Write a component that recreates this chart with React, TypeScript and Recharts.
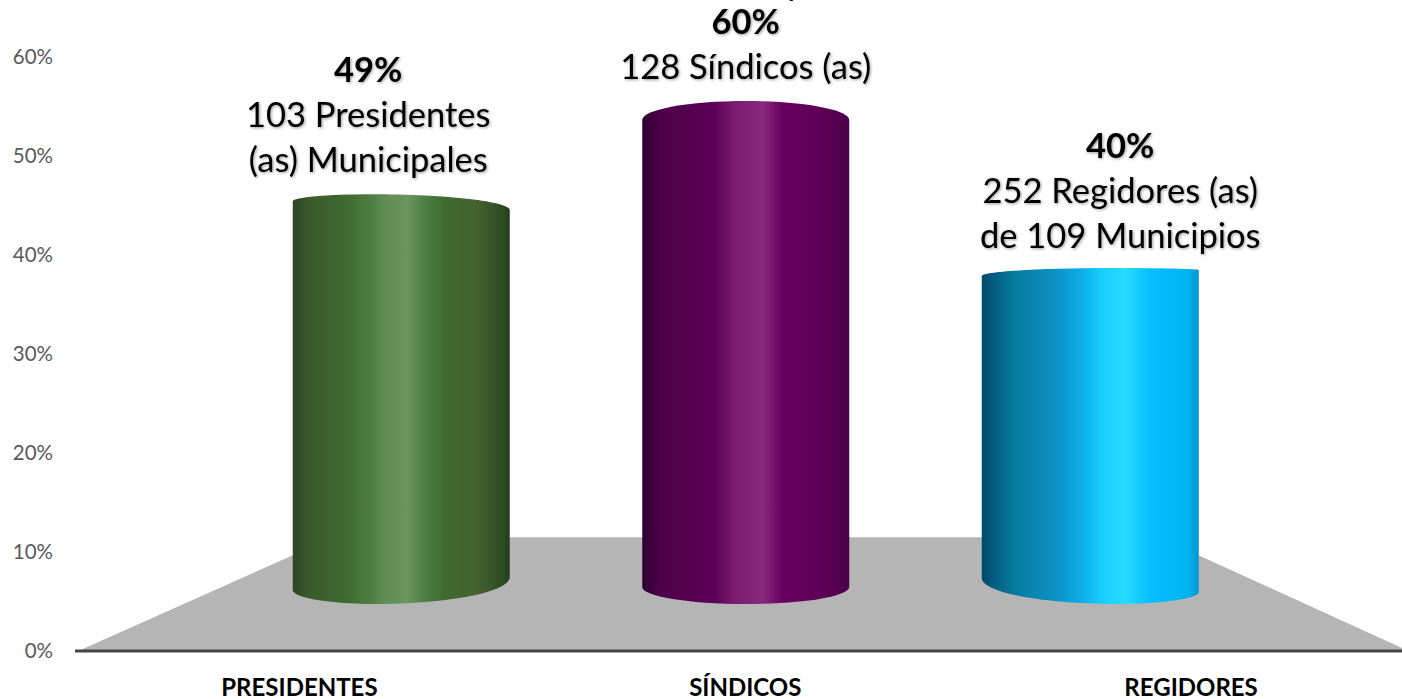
import { Bar, BarChart, LabelList, ReferenceArea, XAxis, YAxis } from "recharts";

const categories = ["PRESIDENTES", "SÍNDICOS", "REGIDORES"];
const percentages = [49, 60, 40];
const percentLabels = ["49%", "60%", "40%"];
const detailLines = [
  ["103 Presidentes", "(as) Municipales"],
  ["128 Síndicos (as)"],
  ["252 Regidores (as)", "de 109 Municipios"],
];
const yTicks = [0, 10, 20, 30, 40, 50, 60];

const data = categories.map((category, i) => ({ category, value: percentages[i] }));

const FONT = "Lato, 'Open Sans', sans-serif";

// perspective of each cylinder, offsets in px from the scaled top / base of the bar
const cylinders = [
  { inset: 0, topL: -3, topR: 6, topApex: -10, topAt: 0.36, botL: 11, botR: -2, botApex: 25, botAt: 0.38 },
  { inset: 5, topL: 0, topR: 0, topApex: -19, topAt: 0.5, botL: 8, botR: 8, botApex: 25, botAt: 0.5 },
  { inset: 0, topL: 3, topR: -3, topApex: -5, topAt: 0.6, botL: -1, botR: 13, botApex: 25, botAt: 0.62 },
];

const labelOffsets = [
  { dx: -33, dy: -43 },
  { dx: 0, dy: -52 },
  { dx: 30, dy: -36 },
];

const gradients = [
  [
    ["0%", "#2a4722"],
    ["8%", "#3b5b2d"],
    ["25%", "#3f6a30"],
    ["35%", "#4c7c40"],
    ["42%", "#5f8c54"],
    ["53%", "#6a965e"],
    ["60%", "#4f8045"],
    ["70%", "#3f6a2e"],
    ["85%", "#456230"],
    ["97%", "#2c4a20"],
    ["100%", "#223c18"],
  ],
  [
    ["0%", "#2c0030"],
    ["8%", "#4c0048"],
    ["35%", "#5c0058"],
    ["44%", "#7a1a70"],
    ["58%", "#8a2880"],
    ["68%", "#660060"],
    ["85%", "#600058"],
    ["100%", "#4a0048"],
  ],
  [
    ["0%", "#004a68"],
    ["5%", "#025c7e"],
    ["15%", "#067a9e"],
    ["35%", "#0c94c8"],
    ["47%", "#0cb0ec"],
    ["55%", "#18ccff"],
    ["66%", "#26dcff"],
    ["78%", "#06bdff"],
    ["95%", "#00b4f0"],
    ["100%", "#0098d0"],
  ],
];

function Cylinder(props: any) {
  const { x, y, width, height, index } = props;
  const c = cylinders[index];
  const xl = x + c.inset;
  const xr = x + width - c.inset;
  const base = y + height;
  const k = 0.55;
  const curve = (ya: number, at: number, yl: number, yr: number) => {
    const xa = xl + (xr - xl) * at;
    return { xa, ya, yl, yr };
  };
  const t = curve(y + c.topApex, c.topAt, y + c.topL, y + c.topR);
  const b = curve(base + c.botApex, c.botAt, base + c.botL, base + c.botR);
  const d = [
    `M${xl},${t.yl}`,
    `C${xl},${t.yl - k * (t.yl - t.ya)} ${t.xa - k * (t.xa - xl)},${t.ya} ${t.xa},${t.ya}`,
    `C${t.xa + k * (xr - t.xa)},${t.ya} ${xr},${t.yr - k * (t.yr - t.ya)} ${xr},${t.yr}`,
    `L${xr},${b.yr}`,
    `C${xr},${b.yr + k * (b.ya - b.yr)} ${b.xa + k * (xr - b.xa)},${b.ya} ${b.xa},${b.ya}`,
    `C${b.xa - k * (b.xa - xl)},${b.ya} ${xl},${b.yl + k * (b.ya - b.yl)} ${xl},${b.yl}`,
    "Z",
  ].join(" ");
  return <path d={d} fill={`url(#cyl${index})`} />;
}

function Floor(props: any) {
  const { x, y, width, height } = props;
  const right = x + width;
  const bottom = y + height;
  const pts = [
    [x + 4, bottom - 1],
    [x + 257, y],
    [right - 255, y],
    [right - 12, bottom - 3],
    [right - 12, bottom],
    [x + 4, bottom],
  ];
  return <polygon points={pts.map((p) => p.join(",")).join(" ")} fill="#b5b5b5" />;
}

function ValueLabel(props: any) {
  const { x, y, width, index } = props;
  const off = labelOffsets[index];
  const lines = detailLines[index];
  const cx = x + width / 2 + off.dx;
  const lastY = y + off.dy;
  const textStyle = { filter: "drop-shadow(1px 1px 1.5px rgba(0,0,0,0.4))" };
  return (
    <g fontFamily={FONT} textAnchor="middle" fill="#000" style={textStyle}>
      <text x={cx} y={lastY - lines.length * 45 + 11} fontSize={34.5} fontWeight={700}>
        {percentLabels[index]}
      </text>
      {lines.map((line, i) => (
        <text key={line} x={cx} y={lastY - (lines.length - 1 - i) * 45 + 11} fontSize={34.5}>
          {line}
        </text>
      ))}
    </g>
  );
}

export default function App() {
  return (
    <div style={{ position: "fixed", left: 0, top: 0, width: 1402, height: 699, overflow: "hidden", background: "#fff" }}>
      <BarChart
        width={1414}
        height={699}
        data={data}
        margin={{ top: 57, right: 0, bottom: 0, left: 0 }}
      >
        <defs>
          {gradients.map((stops, i) => (
            <linearGradient key={i} id={`cyl${i}`} x1="0" y1="0" x2="1" y2="0">
              {stops.map(([offset, color]) => (
                <stop key={offset} offset={offset} stopColor={color} />
              ))}
            </linearGradient>
          ))}
        </defs>
        <XAxis
          xAxisId="cat"
          dataKey="category"
          interval={0}
          height={48}
          padding={{ left: 1.5, right: 0 }}
          axisLine={{ stroke: "#454545", strokeWidth: 3 }}
          tickLine={false}
          tickMargin={22}
          tick={{ fill: "#000", fontSize: 24, fontWeight: 700, fontFamily: FONT }}
        />
        <XAxis
          xAxisId="bars"
          dataKey="category"
          hide
          height={0}
          padding={{ left: 153.75, right: 151.75 }}
        />
        <YAxis
          yAxisId="pct"
          width={75}
          domain={[0, 60]}
          ticks={yTicks}
          interval={0}
          axisLine={false}
          tickLine={false}
          tickMargin={16}
          tickFormatter={(v) => `${v}%`}
          tick={{ fill: "#595959", fontSize: 20.5, fontFamily: FONT }}
        />
        <YAxis yAxisId="bars" hide width={0} domain={[-9.41, 68.24]} allowDataOverflow />
        <ReferenceArea xAxisId="cat" yAxisId="pct" y1={0} y2={11.5} ifOverflow="visible" shape={<Floor />} />
        {/* keeps the visible axes bound to the data, the drawn cylinders use the hidden pair */}
        <Bar dataKey="value" xAxisId="cat" yAxisId="pct" fill="none" isAnimationActive={false} />
        <Bar
          dataKey="value"
          xAxisId="bars"
          yAxisId="bars"
          barSize={217}
          isAnimationActive={false}
          shape={(p: any) => <Cylinder {...p} />}
        >
          <LabelList dataKey="value" content={(p: any) => <ValueLabel {...p} />} />
        </Bar>
        {/* the slide title is cut off by the top edge, only this descender shows */}
        <text x={797} y={-5} fontFamily={FONT} fontSize={34.5} textAnchor="middle" fill="#000">
          p
        </text>
      </BarChart>
    </div>
  );
}
